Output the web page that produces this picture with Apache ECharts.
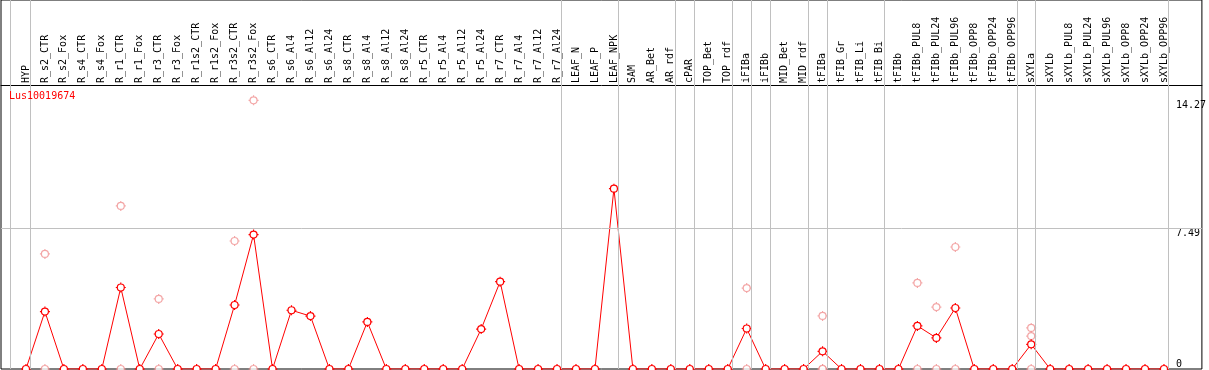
<!DOCTYPE html>
<html>
<head>
<meta charset="utf-8">
<script src="https://cdn.jsdelivr.net/npm/echarts@6/dist/echarts.min.js"></script>
<style>
  html, body { margin: 0; padding: 0; background: #fff; }
  #chart { width: 1209px; height: 370px; }
</style>
</head>
<body>
<div id="chart"></div>
<script>
// sample names, in plotting order
var categories = ['HYP',
    'R_s2_CTR', 'R_s2_Fox', 'R_s4_CTR', 'R_s4_Fox', 'R_r1_CTR', 'R_r1_Fox', 'R_r3_CTR', 'R_r3_Fox',
    'R_r1s2_CTR', 'R_r1s2_Fox', 'R_r3s2_CTR', 'R_r3s2_Fox', 'R_s6_CTR', 'R_s6_Al4', 'R_s6_Al12',
    'R_s6_Al24', 'R_s8_CTR', 'R_s8_Al4', 'R_s8_Al12', 'R_s8_Al24', 'R_r5_CTR', 'R_r5_Al4',
    'R_r5_Al12', 'R_r5_Al24', 'R_r7_CTR', 'R_r7_Al4', 'R_r7_Al12', 'R_r7_Al24',
    'LEAF_N', 'LEAF_P', 'LEAF_NPK',
    'SAM', 'AR_Bet', 'AR_rdf',
    'cPAR',
    'TOP_Bet', 'TOP_rdf',
    'iFIBa',
    'iFIBb',
    'MID_Bet', 'MID_rdf',
    'tFIBa',
    'tFIB_Gr', 'tFIB_Li', 'tFIB_Bi',
    'tFIBb', 'tFIBb_PUL8', 'tFIBb_PUL24', 'tFIBb_PUL96', 'tFIBb_OPP8', 'tFIBb_OPP24', 'tFIBb_OPP96',
    'sXYLa',
    'sXYLb', 'sXYLb_PUL8', 'sXYLb_PUL24', 'sXYLb_PUL96', 'sXYLb_OPP8', 'sXYLb_OPP24', 'sXYLb_OPP96'];

// how many samples sit in each block between the grey separators
var groupSizes = [1, 28, 3, 3, 1, 2, 1, 1, 2, 1, 3, 7, 1, 7];

// mean expression per sample
var meanValues = [0,
    3.05, 0, 0, 0, 4.33, 0, 1.86, 0,
    0, 0, 3.40, 7.14, 0, 3.12, 2.81,
    0, 0, 2.50, 0, 0, 0, 0,
    0, 2.12, 4.64, 0, 0, 0,
    0, 0, 9.58,
    0, 0, 0,
    0,
    0, 0,
    2.15,
    0,
    0, 0,
    0.94,
    0, 0, 0,
    0, 2.29, 1.65, 3.24, 0, 0, 0,
    1.31,
    0, 0, 0, 0, 0, 0, 0];

// single replicate values [sample, value]
var replicates = [
    ['R_s2_CTR', 6.11], ['R_s2_CTR', 0],
    ['R_r1_CTR', 8.66], ['R_r1_CTR', 0],
    ['R_r3_CTR', 3.72], ['R_r3_CTR', 0],
    ['R_r3s2_CTR', 6.80], ['R_r3s2_CTR', 0],
    ['R_r3s2_Fox', 14.27], ['R_r3s2_Fox', 0],
    ['iFIBa', 4.30], ['iFIBa', 0],
    ['tFIBa', 2.82], ['tFIBa', 0], ['tFIBa', 0],
    ['tFIBb_PUL8', 4.57], ['tFIBb_PUL8', 0],
    ['tFIBb_PUL24', 3.29], ['tFIBb_PUL24', 0],
    ['tFIBb_PUL96', 6.48], ['tFIBb_PUL96', 0],
    ['sXYLa', 2.18], ['sXYLa', 1.75], ['sXYLa', 0]
];

var yTickLabels = [7.49, 14.27];
var yZeroLabel = [0];
var gridLineValue = 7.49;

var FONT = 'DejaVu Sans Mono';
// ring (bezier circle) with four small notches
var ringSymbol = 'path://M1.5,5 C1.5,3.067 3.067,1.5 5,1.5 C6.933,1.5 8.5,3.067 8.5,5 ' +
    'C8.5,6.933 6.933,8.5 5,8.5 C3.067,8.5 1.5,6.933 1.5,5 Z ' +
    'M5,0 L5,1.5 M5,8.5 L5,10 M0,5 L1.5,5 M8.5,5 L10,5';

var chart = echarts.init(document.getElementById('chart'));

var meanData = meanValues.map(function (v, i) { return [i, v]; });
var repData = replicates.map(function (r) { return [categories.indexOf(r[0]), r[1]]; });

// separators just right of the last sample of every block
var sepLines = [{ xAxis: -1 + 0.16 }];
var pos = -1;
groupSizes.forEach(function (n) {
    pos += n;
    sepLines.push({ xAxis: pos + 0.24 });
});
var idx = categories.map(function (c, i) { return i; });

var option = {
    animation: false,
    title: {
        text: 'Lus10019674',
        left: 9,
        top: 91,
        padding: 0,
        textStyle: { color: '#ff0000', fontSize: 10, fontWeight: 'normal', fontFamily: FONT }
    },
    grid: {
        left: 1, right: 5, top: 0, bottom: 1,
        show: true,
        borderColor: '#000',
        borderWidth: 1,
        backgroundColor: '#fff'
    },
    xAxis: {
        type: 'value',
        position: 'top',
        offset: -85,
        min: -25 / 19,
        max: 62,
        axisLine: { show: true, onZero: false, lineStyle: { color: '#000', width: 1 } },
        axisTick: { show: false },
        splitLine: { show: false },
        axisLabel: {
            customValues: idx,
            rotate: -90,
            margin: 2,
            color: '#000',
            fontSize: 10,
            fontFamily: FONT,
            formatter: function (v) { return categories[Math.round(v)] || ''; }
        }
    },
    yAxis: [{
        type: 'value',
        position: 'right',
        min: 0,
        max: 19.6,
        axisLine: { show: false },
        axisTick: { show: false },
        splitLine: { show: false },
        axisLabel: {
            customValues: yTickLabels,
            inside: true,
            margin: 26,
            align: 'left',
            verticalAlign: 'top',
            color: '#000',
            fontSize: 10,
            fontFamily: FONT
        }
    }, {
        type: 'value',
        position: 'right',
        min: 0,
        max: 19.6,
        axisLine: { show: false },
        axisTick: { show: false },
        splitLine: { show: false },
        axisLabel: {
            customValues: yZeroLabel,
            inside: true,
            margin: 26,
            align: 'left',
            verticalAlign: 'bottom',
            color: '#000',
            fontSize: 10,
            fontFamily: FONT
        }
    }],
    series: [
        {
            name: 'replicates',
            type: 'scatter',
            data: repData,
            symbol: ringSymbol,
            symbolSize: 10,
            z: 2,
            itemStyle: { color: '#fff', borderColor: '#f09090', borderWidth: 1.2 },
            markLine: {
                silent: true,
                symbol: 'none',
                label: { show: false },
                lineStyle: { color: '#c0c0c0', width: 1, type: 'solid' },
                data: sepLines.concat([{ yAxis: gridLineValue }])
            }
        },
        {
            name: 'mean',
            type: 'line',
            data: meanData,
            symbol: ringSymbol,
            symbolSize: 10,
            showAllSymbol: true,
            z: 3,
            lineStyle: { color: '#ff0000', width: 1 },
            itemStyle: { color: '#fff', borderColor: '#ff0000', borderWidth: 1.2 }
        }
    ]
};

chart.setOption(option);
</script>
</body>
</html>
